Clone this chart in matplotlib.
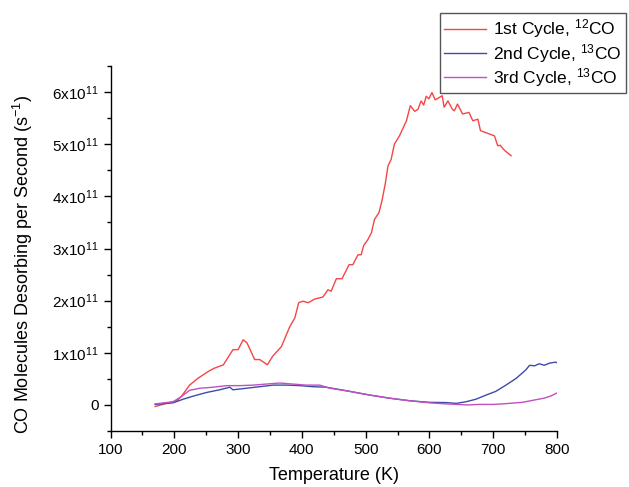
import numpy as np
import matplotlib
matplotlib.use('Agg')
import matplotlib.pyplot as plt
from matplotlib.ticker import MultipleLocator, FuncFormatter

plt.rcParams['font.family'] = ['Liberation Sans', 'DejaVu Sans']
plt.rcParams['mathtext.fontset'] = 'custom'
plt.rcParams['mathtext.rm'] = 'Liberation Sans'
plt.rcParams['mathtext.it'] = 'Liberation Sans'
plt.rcParams['mathtext.default'] = 'regular'

# data, values in units of 1e11 molecules/s
t_red = [170, 188, 204, 211, 224, 237, 253, 262, 277, 292,
         300, 308, 314, 326, 334, 346, 354, 368, 381, 389,
         395, 402, 410, 420, 433, 441, 446, 454, 463, 474,
         480, 488, 493, 497, 503, 509, 514, 521, 526, 531,
         535, 540, 545, 553, 564, 570, 577, 582, 587, 591,
         595, 599, 604, 609, 616, 620, 623, 629, 636, 639,
         644, 652, 662, 668, 676, 680, 702, 707, 711, 717, 728]
y_red = [-0.03, 0.03, 0.08, 0.16, 0.38, 0.51, 0.64, 0.70, 0.77, 1.06,
         1.06, 1.25, 1.19, 0.87, 0.87, 0.77, 0.93, 1.12, 1.50, 1.67,
         1.96, 1.99, 1.96, 2.03, 2.07, 2.21, 2.18, 2.42, 2.42, 2.69,
         2.69, 2.88, 2.88, 3.06, 3.16, 3.30, 3.56, 3.69, 3.94, 4.26,
         4.58, 4.71, 5.00, 5.16, 5.45, 5.74, 5.63, 5.67, 5.83, 5.75,
         5.92, 5.87, 5.99, 5.85, 5.90, 5.93, 5.71, 5.83, 5.67, 5.64,
         5.77, 5.58, 5.61, 5.45, 5.48, 5.26, 5.16, 4.97, 4.98, 4.89, 4.78]

t_blue = [170, 198, 214, 230, 251, 271, 287, 292, 313, 334,
          355, 376, 397, 417, 438, 457, 475, 506, 537, 569,
          600, 626, 642, 657, 673, 689, 704, 720, 736, 751,
          757, 765, 772, 780, 788, 797, 800]
y_blue = [0.01, 0.04, 0.11, 0.17, 0.24, 0.29, 0.34, 0.29, 0.32, 0.35,
          0.38, 0.38, 0.37, 0.35, 0.34, 0.30, 0.26, 0.19, 0.13, 0.08,
          0.05, 0.045, 0.03, 0.06, 0.11, 0.19, 0.26, 0.38, 0.51, 0.67,
          0.76, 0.75, 0.79, 0.76, 0.80, 0.82, 0.81]

t_pink = [170, 198, 211, 224, 240, 261, 282, 303, 324, 344,
          365, 386, 407, 428, 444, 475, 506, 537, 569, 600,
          626, 642, 660, 678, 700, 715, 746, 767, 780, 790, 800]
y_pink = [0.02, 0.06, 0.16, 0.28, 0.32, 0.34, 0.37, 0.37, 0.38, 0.40,
          0.42, 0.40, 0.38, 0.38, 0.32, 0.26, 0.19, 0.13, 0.08, 0.04,
          0.02, 0.01, 0.00, 0.01, 0.01, 0.02, 0.05, 0.10, 0.13, 0.17, 0.23]

labels = [r'1st Cycle, $^{12}$CO', r'2nd Cycle, $^{13}$CO', r'3rd Cycle, $^{13}$CO']
colors = ['#F54545', '#3C4CA8', '#C150C1']

fig = plt.figure(figsize=(6.29, 4.87), dpi=100)
ax = fig.add_axes([110.5 / 629, 1 - 431 / 487, (557 - 110.5) / 629, (431 - 66) / 487])

scale = 1e11
ax.plot(t_red, np.array(y_red) * scale, color=colors[0], lw=1.0, label=labels[0])
ax.plot(t_blue, np.array(y_blue) * scale, color=colors[1], lw=1.0, label=labels[1])
ax.plot(t_pink, np.array(y_pink) * scale, color=colors[2], lw=1.0, label=labels[2])

ax.set_xlim(100, 800)
ax.set_ylim(-0.5e11, 6.5e11)
ax.xaxis.set_major_locator(MultipleLocator(100))
ax.xaxis.set_minor_locator(MultipleLocator(50))
ax.yaxis.set_major_locator(MultipleLocator(1e11))
ax.yaxis.set_minor_locator(MultipleLocator(0.5e11))


def ylab(v, pos):
    n = int(round(v / 1e11))
    if n == 0:
        return '0'
    return r'$%dx10^{11}$' % n


ax.yaxis.set_major_formatter(FuncFormatter(ylab))

for s in ['top', 'right']:
    ax.spines[s].set_visible(False)
for s in ['left', 'bottom']:
    ax.spines[s].set_linewidth(1.0)

ax.tick_params(which='major', direction='out', length=5, width=1, labelsize=11)
ax.tick_params(which='minor', direction='out', length=3, width=1)

ax.set_xlabel('Temperature (K)', fontsize=13, labelpad=7)
ax.set_ylabel(r'CO Molecules Desorbing per Second (s$^{-1}$)', fontsize=13)
ax.yaxis.set_label_coords(-0.168, 0.455)

leg = fig.legend(loc='upper left', bbox_to_anchor=(440 / 629, 1 - 13 / 487),
                 borderaxespad=0, fontsize=12.5, handlelength=2.4,
                 fancybox=False, framealpha=1, edgecolor='#555555',
                 labelspacing=0.08, borderpad=0.25, handletextpad=0.4)
leg.get_frame().set_linewidth(1.0)

fig.savefig('out.png', dpi=100)
